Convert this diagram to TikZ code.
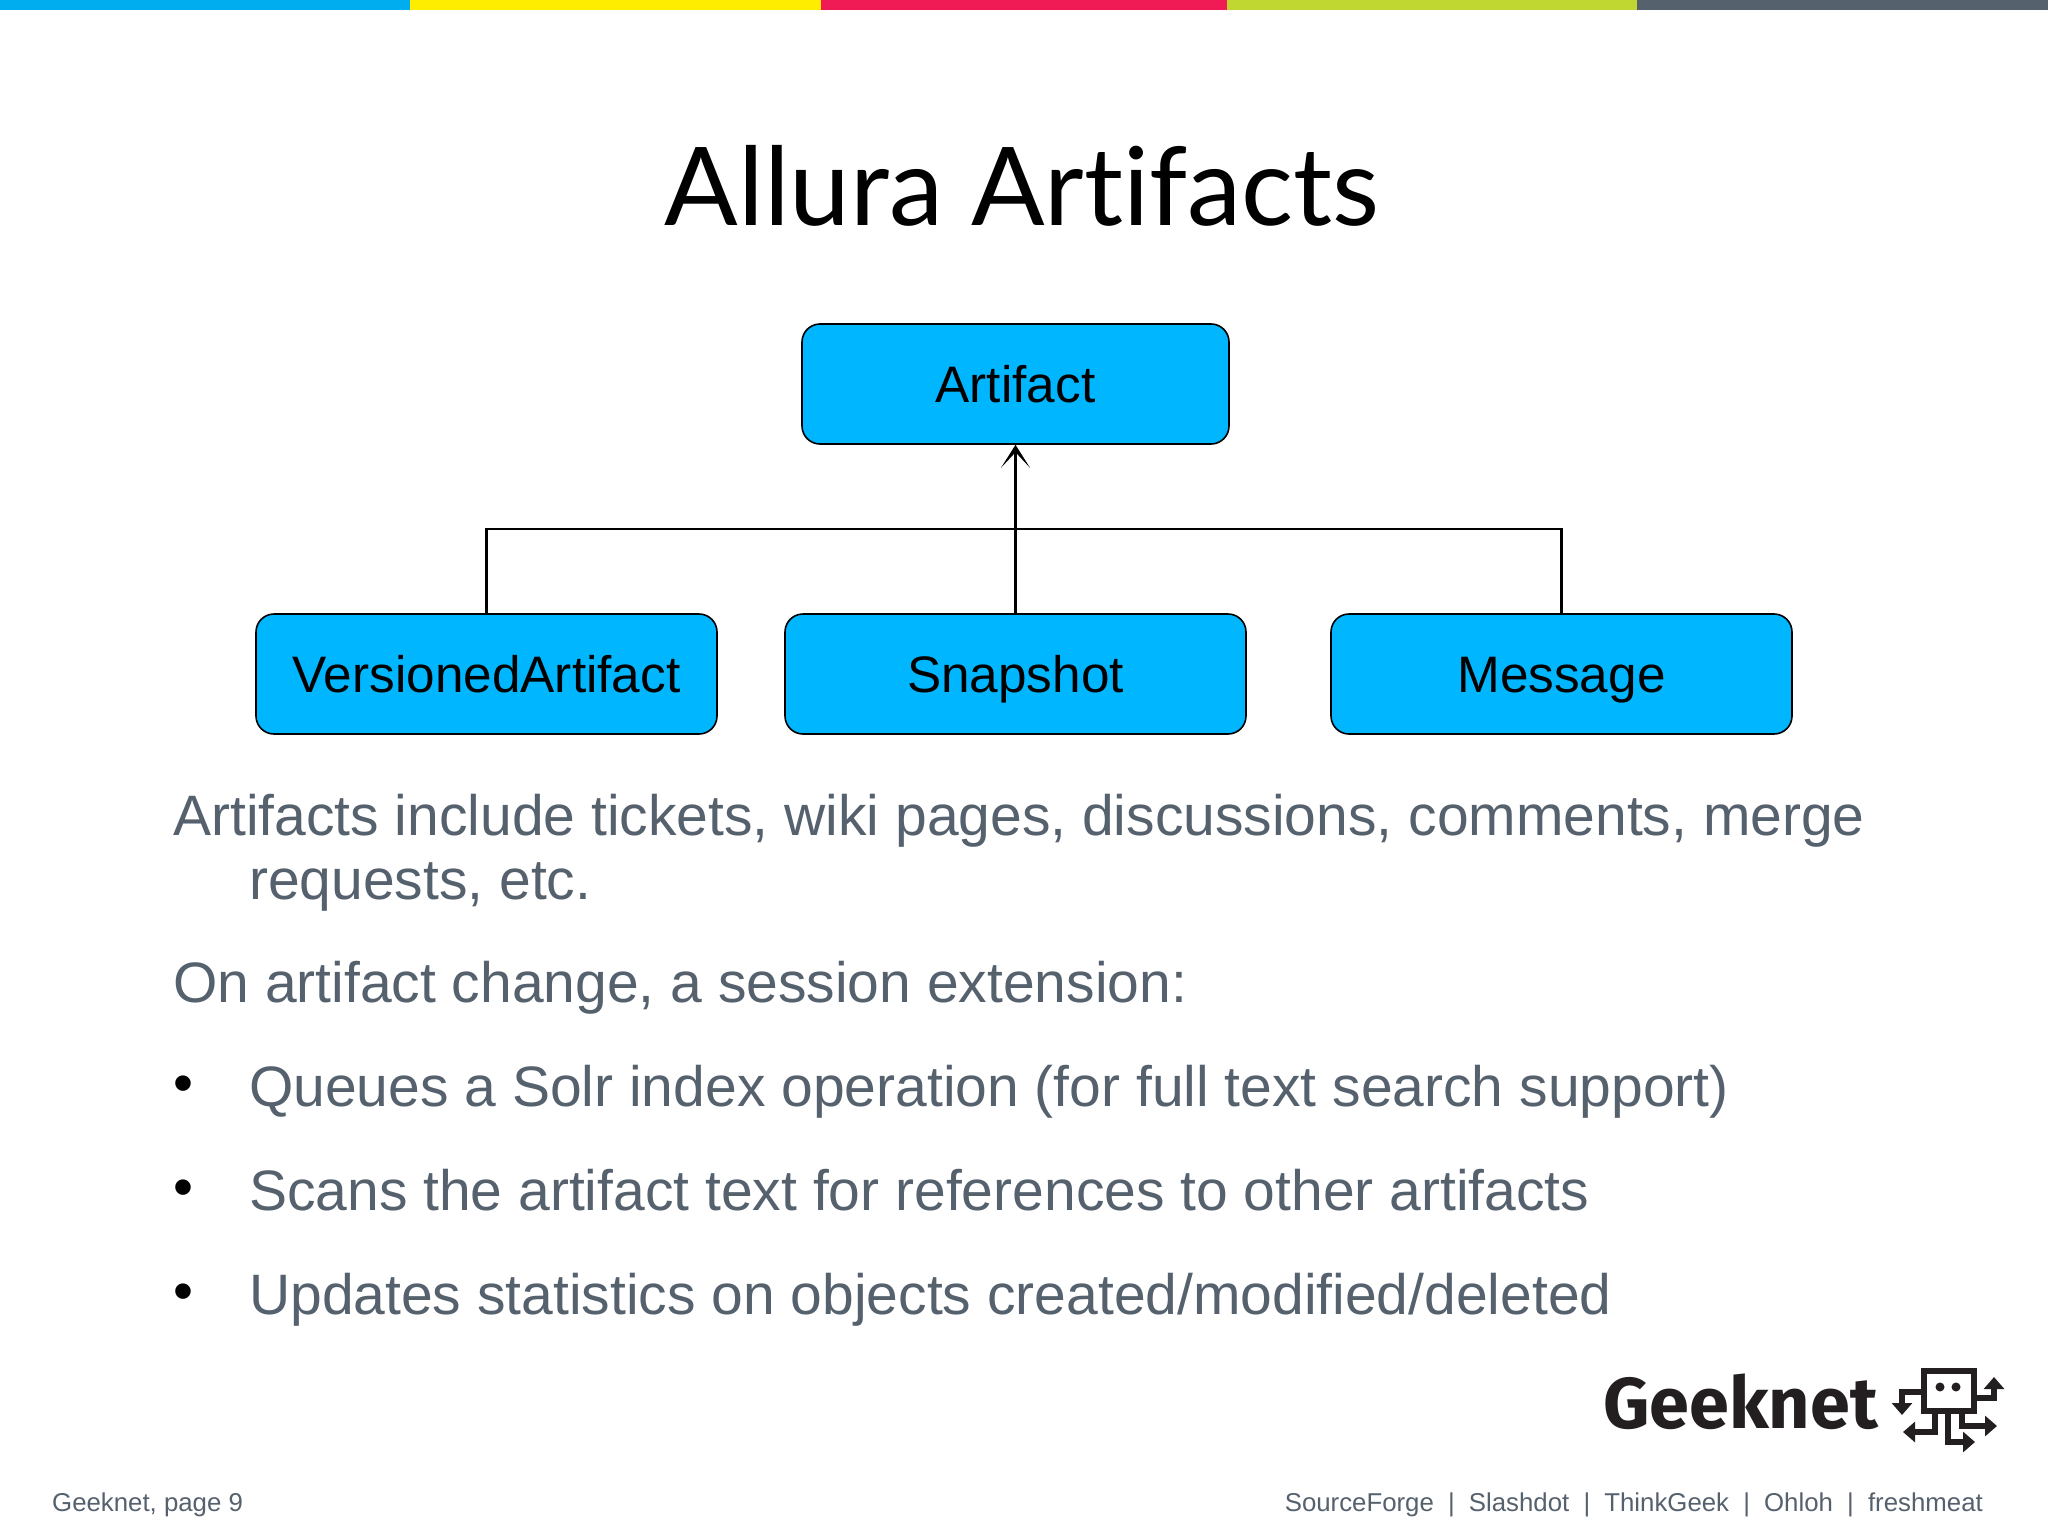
\documentclass[tikz,border=0pt]{standalone}
\usepackage{fontspec}
\setmainfont{Liberation Sans}
\newfontfamily\titlefont[Ligatures=CommonOff]{Lato}
\newfontfamily\logofont{Fira Sans}
\usetikzlibrary{arrows.meta}
\definecolor{barblue}{HTML}{00AEEF}
\definecolor{baryellow}{HTML}{FFED00}
\definecolor{barred}{HTML}{F01B55}
\definecolor{bargreen}{HTML}{BFD730}
\definecolor{slate}{HTML}{56616E}
\definecolor{boxblue}{HTML}{00B6FF}
\definecolor{logoblack}{HTML}{231F20}
\tikzset{
  umlbox/.style={draw=black,line width=1.6pt,fill=boxblue,rounded corners=18pt,minimum height=120pt,inner sep=0pt,text height=37pt,text depth=0pt,font=\fontsize{51.3}{60}\selectfont,text=black},
  link/.style={draw=black,line width=2.2pt},
  body/.style={anchor=base west,inner sep=0pt,text=slate,font=\fontsize{57}{68}\selectfont},
  bulletmark/.style={anchor=base west,inner sep=0pt,text=black,font=\fontsize{57}{68}\selectfont},
  foot/.style={inner sep=0pt,text=slate,font=\fontsize{25.8}{30}\selectfont},
  limb/.style={draw=logoblack,line width=5.5pt,-{Triangle[width=20pt,length=12pt]},line join=miter},
}
\begin{document}
\begin{tikzpicture}[x=1pt,y=-1pt]
\useasboundingbox (0,0) rectangle (2048,1536);
\fill[white] (0,0) rectangle (2048,1536);
\fill[barblue] (0,0) rectangle (410,10);
\fill[baryellow] (410,0) rectangle (821,10);
\fill[barred] (821,0) rectangle (1227,10);
\fill[bargreen] (1227,0) rectangle (1637,10);
\fill[slate] (1637,0) rectangle (2048,10);

\node[anchor=base,inner sep=0pt,text=black,font=\titlefont\fontsize{108.8}{120}\selectfont] (title) at (1022,225) {Allura Artifacts};

\node[umlbox,minimum width=427pt] (artifact) at (1015.5,384) {Artifact};
\node[umlbox,minimum width=461pt] (versioned) at (486.5,674) {VersionedArtifact};
\node[umlbox,minimum width=461pt] (snapshot) at (1015.5,674) {Snapshot};
\node[umlbox,minimum width=461pt] (message) at (1561.5,674) {Message};
\coordinate (join) at (1015.5,529);

\draw[link,-{Stealth[length=23pt,width=29pt,inset=15.5pt,line width=0pt]}] (snapshot.north) -- (artifact.south);
\draw[link] (versioned.north) |- (join) -| (message.north);

\node[body] (l1) at (173,835) {Artifacts include tickets, wiki pages, discussions, comments, merge};
\node[body] (l2) at (249,899) {requests, etc.};
\node[body] (l3) at (173,1002) {On artifact change, a session extension:};
\node[bulletmark] (b1) at (173,1102) {•};
\node[body] (l4) at (249,1106) {Queues a Solr index operation (for full text search support)};
\node[bulletmark] (b2) at (173,1206) {•};
\node[body] (l5) at (249,1210) {Scans the artifact text for references to other artifacts};
\node[bulletmark] (b3) at (173,1310) {•};
\node[body] (l6) at (249,1314) {Updates statistics on objects created/modified/deleted};

\node[foot,anchor=base west] (pg) at (52,1511) {Geeknet, page 9};
\node[foot,anchor=base east] (brands) at (1983,1511) {SourceForge\hspace{7pt} |\hspace{7pt} Slashdot\hspace{7pt} |\hspace{7pt} ThinkGeek\hspace{7pt} |\hspace{7pt} Ohloh\hspace{7pt} |\hspace{7pt} freshmeat};

\node[anchor=base west,inner sep=0pt,text=logoblack,font=\logofont\bfseries\fontsize{72}{80}\selectfont] (geeknet) at (1603,1428) {Geeknet};
\draw[draw=logoblack,line width=6pt] (1924,1371) rectangle (1974,1411);
\fill[logoblack] (1940,1387) circle (4.5pt) (1956,1387) circle (4.5pt);
\draw[limb] (1921,1392) -- (1902,1392) -- (1902,1415);
\draw[limb] (1977,1398) -- (1994,1398) -- (1994,1377);
\draw[limb] (1935,1414) -- (1935,1432) -- (1903,1432);
\draw[limb] (1948,1414) -- (1948,1442) -- (1975,1442);
\draw[limb] (1962,1414) -- (1962,1426) -- (1997,1426);
\end{tikzpicture}
\end{document}
